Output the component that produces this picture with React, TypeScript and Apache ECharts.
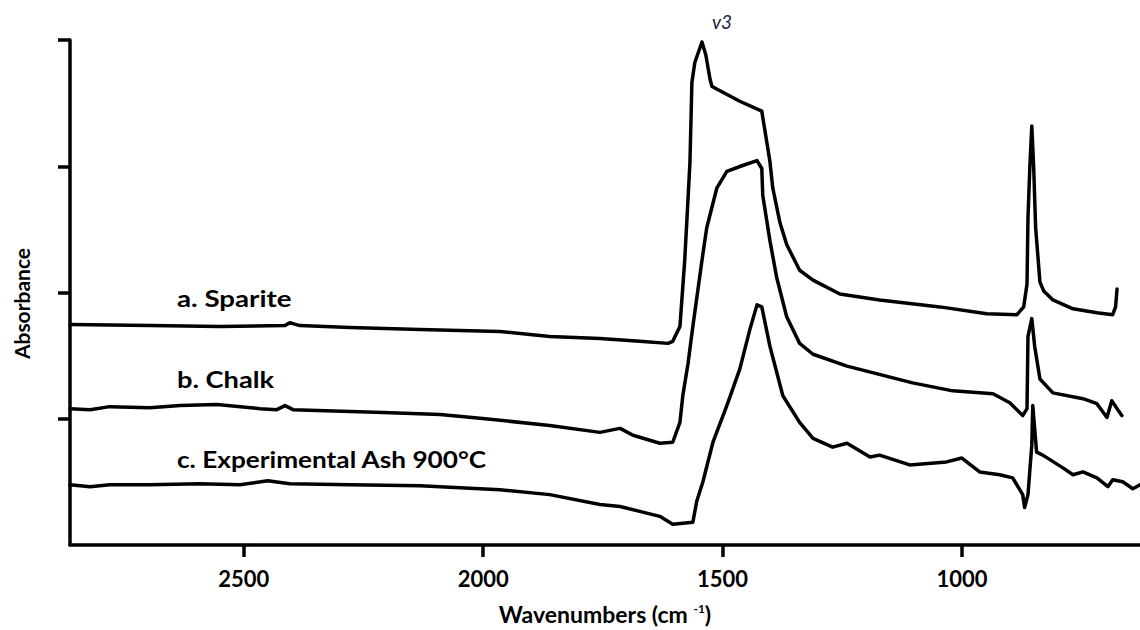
import React, { useEffect, useRef } from "react";
import * as echarts from "echarts";

// Wavenumber (cm-1) / absorbance (a.u.) pairs
const sparite: [number, number][] = [
  [2863, 1.746], [2696, 1.738], [2550, 1.73], [2414, 1.738], [2404, 1.761], [2383, 1.738],
  [2278, 1.722], [2132, 1.706], [1965, 1.691], [1861, 1.652], [1756, 1.636], [1673, 1.613],
  [1614, 1.597], [1604, 1.613], [1589, 1.73], [1579, 2.254], [1572, 2.748], [1568, 3.037],
  [1564, 3.663], [1558, 3.82], [1543, 3.984], [1535, 3.883], [1526, 3.687], [1522, 3.632],
  [1464, 3.515], [1418, 3.436], [1412, 3.295], [1401, 3.037], [1395, 2.826], [1380, 2.552],
  [1366, 2.38], [1339, 2.176], [1311, 2.098], [1255, 1.988], [1172, 1.941], [1046, 1.886],
  [948, 1.832], [885, 1.824], [871, 1.886], [864, 2.067], [862, 2.591], [858, 3.006],
  [854, 3.319], [850, 2.982], [846, 2.513], [837, 2.082], [829, 2.012], [810, 1.941],
  [768, 1.871], [718, 1.84], [685, 1.824], [679, 1.886], [676, 2.027],
];

const chalk: [number, number][] = [
  [2863, 1.08], [2821, 1.072], [2780, 1.096], [2696, 1.088], [2633, 1.104], [2556, 1.112],
  [2466, 1.08], [2431, 1.072], [2414, 1.104], [2397, 1.072], [2209, 1.049], [2090, 1.033],
  [2001, 1.002], [1861, 0.947], [1756, 0.892], [1725, 0.916], [1714, 0.924], [1687, 0.869],
  [1631, 0.806], [1604, 0.814], [1589, 0.971], [1583, 1.182], [1572, 1.44], [1562, 1.73],
  [1543, 2.254], [1533, 2.513], [1512, 2.826], [1491, 2.959], [1458, 3.006], [1428, 3.045],
  [1418, 2.982], [1416, 2.771], [1401, 2.411], [1387, 2.121], [1366, 1.808], [1339, 1.597],
  [1311, 1.511], [1240, 1.417], [1103, 1.284], [1019, 1.221], [935, 1.198], [900, 1.127],
  [873, 1.025], [864, 1.08], [862, 1.652], [854, 1.793], [848, 1.573], [837, 1.315],
  [810, 1.205], [747, 1.159], [718, 1.119], [697, 1.01], [687, 1.143], [676, 1.08], [666, 1.025],
];

const ash: [number, number][] = [
  [2863, 0.477], [2821, 0.462], [2780, 0.477], [2696, 0.477], [2592, 0.485], [2508, 0.477],
  [2450, 0.509], [2404, 0.485], [2278, 0.477], [2132, 0.47], [1965, 0.438], [1861, 0.399],
  [1756, 0.321], [1714, 0.305], [1673, 0.266], [1631, 0.227], [1604, 0.164], [1562, 0.18],
  [1554, 0.344], [1541, 0.501], [1520, 0.814], [1491, 1.104], [1464, 1.393], [1443, 1.706],
  [1428, 1.902], [1418, 1.886], [1401, 1.573], [1374, 1.182], [1339, 0.971], [1311, 0.845],
  [1270, 0.775], [1240, 0.806], [1192, 0.697], [1172, 0.712], [1109, 0.634], [1032, 0.658],
  [1000, 0.689], [963, 0.579], [921, 0.556], [894, 0.532], [873, 0.399], [869, 0.297],
  [862, 0.399], [854, 0.791], [852, 1.104], [844, 0.736], [831, 0.712], [789, 0.611],
  [768, 0.556], [747, 0.579], [718, 0.532], [695, 0.462], [685, 0.517], [664, 0.501],
  [643, 0.446], [628, 0.477],
];

const xTicks = [2500, 2000, 1500, 1000];
const yTicks = [1, 2, 3, 4];
const labels = ["a. Sparite", "b. Chalk", "c. Experimental Ash 900°C"];
const peakLabel = "v3";

export default function App() {
  const ref = useRef<HTMLDivElement>(null);
  useEffect(() => {
    if (!ref.current) return;
    const chart = echarts.init(ref.current, null, { renderer: "svg" });
    const lineSeries = (name: string, data: [number, number][]) => ({
      name,
      type: "line",
      data,
      showSymbol: false,
      symbol: "none",
      smooth: false,
      lineStyle: { color: "#000", width: 3.5, join: "round", cap: "round" },
      z: 3,
    });
    const font = "Lato";
    chart.setOption({
      animation: false,
      backgroundColor: "#fff",
      grid: { left: 70, right: 0, top: 40, bottom: 79, containLabel: false },
      xAxis: {
        type: "value",
        inverse: true,
        min: 628,
        max: 2863,
        name: "{t|Wavenumbers (cm }{s|-1}{t|)}",
        nameLocation: "middle",
        nameGap: 57,
        nameTextStyle: {
          rich: {
            t: { fontFamily: font, fontWeight: "bold", fontSize: 23, color: "#000" },
            s: { fontFamily: font, fontWeight: "bold", fontSize: 12, color: "#000", verticalAlign: "top", padding: [0, 0, 9, 0] },
          },
        },
        axisLine: { show: true, onZero: false, lineStyle: { color: "#000", width: 3.5 } },
        axisTick: { show: true, length: 12, lineStyle: { color: "#000", width: 3.5 }, customValues: xTicks },
        axisLabel: {
          show: true,
          customValues: xTicks,
          formatter: (v: number) => String(v),
          margin: 22,
          fontFamily: font,
          fontWeight: "bold",
          fontSize: 22,
          color: "#000",
        },
        splitLine: { show: false },
      },
      yAxis: {
        type: "value",
        min: 0,
        max: 4,
        name: "Absorbance",
        nameLocation: "middle",
        nameGap: 38,
        nameTextStyle: { fontFamily: font, fontWeight: "bold", fontSize: 21, color: "#000", padding: [0, 22, 0, 0] },
        axisLine: { show: true, onZero: false, lineStyle: { color: "#000", width: 3.5 } },
        axisTick: { show: true, length: 12, lineStyle: { color: "#000", width: 3.5 }, customValues: yTicks },
        axisLabel: { show: false },
        splitLine: { show: false },
      },
      graphic: [
        { type: "text", x: 177, y: 298, scaleX: 1.26, style: { text: labels[0], font: `bold 22px ${font}`, fill: "#000", textVerticalAlign: "middle" } },
        { type: "text", x: 177, y: 380, scaleX: 1.24, style: { text: labels[1], font: `bold 22px ${font}`, fill: "#000", textVerticalAlign: "middle" } },
        { type: "text", x: 177, y: 459, scaleX: 1.19, style: { text: labels[2], font: `bold 22px ${font}`, fill: "#000", textVerticalAlign: "middle" } },
        { type: "text", x: 712, y: 21, style: { text: peakLabel, font: `italic 19px ${font}`, fill: "#1c2340", textVerticalAlign: "middle" } },
      ],
      series: [lineSeries("a. Sparite", sparite), lineSeries("b. Chalk", chalk), lineSeries("c. Experimental Ash 900°C", ash)],
    });
    return () => chart.dispose();
  }, []);
  return <div ref={ref} style={{ position: "absolute", left: 0, top: 0, width: 1140, height: 630 }} />;
}
